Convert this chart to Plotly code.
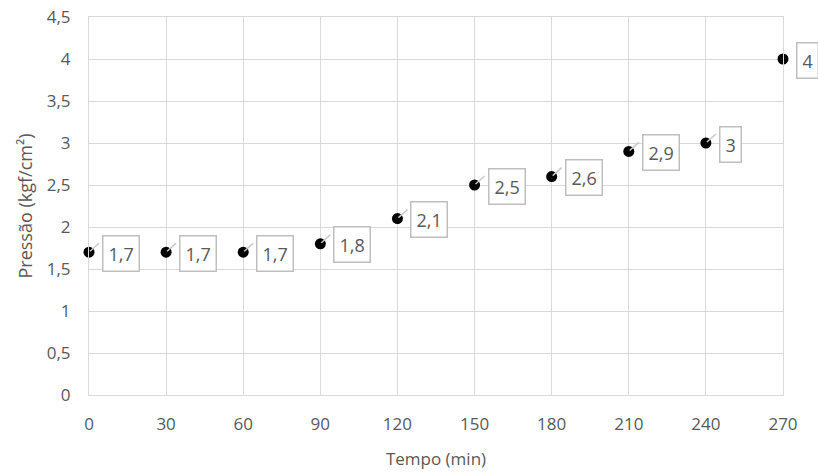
import plotly.graph_objects as go

tempo = [0, 30, 60, 90, 120, 150, 180, 210, 240, 270]
pressao = [1.7, 1.7, 1.7, 1.8, 2.1, 2.5, 2.6, 2.9, 3.0, 4.0]
rotulos = ["1,7", "1,7", "1,7", "1,8", "2,1", "2,5", "2,6", "2,9", "3", "4"]
y_ticks = [0, 0.5, 1, 1.5, 2, 2.5, 3, 3.5, 4, 4.5]
y_tick_text = ["0", "0,5", "1", "1,5", "2", "2,5", "3", "3,5", "4", "4,5"]
x_ticks = [0, 30, 60, 90, 120, 150, 180, 210, 240, 270]

FONT = "Open Sans, DejaVu Sans, sans-serif"
GRAY_TXT = "#595959"
GRID = "#d9d9d9"
NOCOL = "rgba(0,0,0,0)"

fig = go.Figure()
fig.add_trace(go.Scatter(
    x=tempo, y=pressao, mode="markers",
    marker=dict(color="black", size=11, line=dict(width=0)),
    cliponaxis=False, hoverinfo="skip"))

shapes = []
annotations = []
for xv, yv, lab in zip(tempo, pressao, rotulos):
    shapes.append(dict(type="line", xref="x", yref="y",
                       xsizemode="pixel", ysizemode="pixel",
                       xanchor=xv, yanchor=yv,
                       x0=1, y0=1, x1=10, y1=9,
                       line=dict(color="#c8c8c8", width=1.5)))
    annotations.append(dict(x=xv, y=yv, xref="x", yref="y", text=lab,
                            showarrow=False, xanchor="left", yanchor="middle",
                            xshift=13, yshift=-1,
                            font=dict(family=FONT, size=18, color=GRAY_TXT),
                            bordercolor="#bfbfbf", borderwidth=1.5, borderpad=5,
                            bgcolor="white"))

fig.update_layout(
    width=818, height=472,
    margin=dict(l=89, r=35, t=17, b=77),
    paper_bgcolor="white", plot_bgcolor="white",
    showlegend=False,
    separators=", ",
    font=dict(family=FONT, size=17, color=GRAY_TXT),
    shapes=shapes, annotations=annotations,
    xaxis=dict(range=[0, 270], tickvals=x_ticks, showgrid=True, gridcolor=GRID,
               gridwidth=1, zeroline=False, showline=True, linecolor=GRID, linewidth=1,
               mirror=True, ticks="outside", ticklen=14, tickcolor=NOCOL,
               automargin=False,
               tickfont=dict(family=FONT, size=17, color=GRAY_TXT),
               title=dict(text="Tempo (min)", font=dict(family=FONT, size=17, color=GRAY_TXT), standoff=18)),
    yaxis=dict(range=[0, 4.5], tickvals=y_ticks, ticktext=y_tick_text, showgrid=True,
               gridcolor=GRID, gridwidth=1, zeroline=False, showline=True, linecolor=GRID,
               linewidth=1, mirror=True, ticks="outside", ticklen=14, tickcolor=NOCOL,
               automargin=False,
               tickfont=dict(family=FONT, size=17, color=GRAY_TXT),
               title=dict(text="Pressão (kgf/cm²)", font=dict(family=FONT, size=18, color=GRAY_TXT), standoff=9)),
)

fig.write_html("out.html")
